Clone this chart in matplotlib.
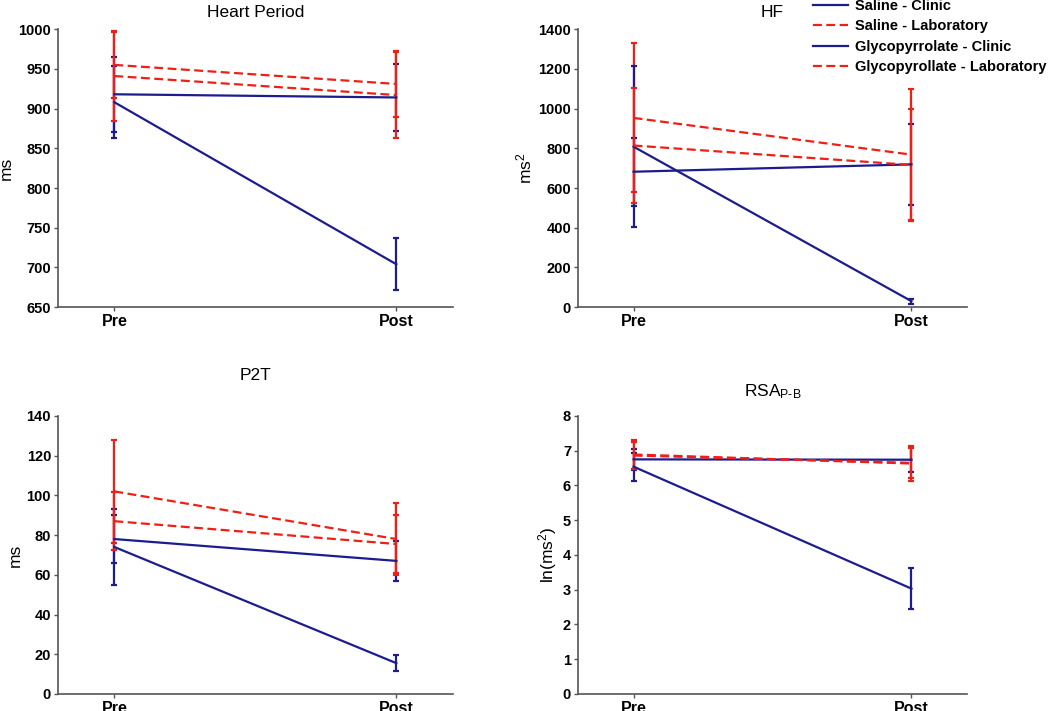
import numpy as np
import matplotlib.pyplot as plt

# Zeitpunkte
conditions = ["Pre", "Post"]

# Reihenfolge der Gruppen wie in der Legende
groups = ["Saline - Clinic", "Saline - Laboratory",
          "Glycopyrrolate - Clinic", "Glycopyrollate - Laboratory"]
colors = ["#1c1c8e", "#f01e14", "#1c1c8e", "#f01e14"]
styles = ["-", "--", "-", "--"]

# Heart Period (ms): Mittelwerte und Fehler je Gruppe, [Pre, Post]
hp_mean = [[918, 914], [955, 931], [908, 704], [941, 917]]
hp_err = [[47, 42], [42, 41], [45, 33], [57, 54]]

# HF (ms^2)
hf_mean = [[682, 719], [953, 768], [808, 30], [814, 716]]
hf_err = [[171, 203], [375, 330], [404, 13], [290, 282]]

# P2T (ms)
p2t_mean = [[78, 67], [102, 78], [74, 15.5], [87, 75.5]]
p2t_err = [[12, 10], [26, 18], [19, 4], [14.5, 14.5]]

# RSA P-B (ln(ms^2))
rsa_mean = [[6.75, 6.74], [6.89, 6.63], [6.54, 3.03], [6.86, 6.65]]
rsa_err = [[0.3, 0.36], [0.42, 0.5], [0.4, 0.6], [0.38, 0.44]]

panels = [
    ("Heart Period", "ms", hp_mean, hp_err, (650, 1000), np.arange(650, 1001, 50)),
    ("HF", "ms$^2$", hf_mean, hf_err, (0, 1400), np.arange(0, 1401, 200)),
    ("P2T", "ms", p2t_mean, p2t_err, (0, 140), np.arange(0, 141, 20)),
    ("RSA$_{\\mathregular{P\\text{-}B}}$", "ln(ms$^2$)", rsa_mean, rsa_err, (0, 8), np.arange(0, 9, 1)),
]

plt.rcParams['font.family'] = ['Liberation Sans', 'DejaVu Sans']
plt.rcParams['mathtext.fontset'] = 'custom'
plt.rcParams['mathtext.rm'] = 'Liberation Sans'
plt.rcParams['mathtext.it'] = 'Liberation Sans'
plt.rcParams['mathtext.default'] = 'regular'

fig = plt.figure(figsize=(10.5, 7.11), dpi=100)

# Achsenpositionen [links, unten, breite, hoehe]
positions = [
    [0.0552, 0.568, 0.376, 0.391],
    [0.5505, 0.568, 0.3705, 0.391],
    [0.0552, 0.024, 0.376, 0.391],
    [0.5505, 0.024, 0.3705, 0.391],
]
title_y = [1.015, 1.015, 1.1, 1.04]

x = np.array([1, 2])
handles = []
for k, (title, ylabel, means, errs, ylim, yticks) in enumerate(panels):
    ax = fig.add_axes(positions[k])
    hs = []
    for g in range(len(groups)):
        cont = ax.errorbar(x, means[g], yerr=errs[g], color=colors[g],
                           linestyle=styles[g], linewidth=1.6, elinewidth=1.6,
                           capsize=2.3, capthick=1.6,
                           dashes=(4, 2) if styles[g] == "--" else (None, None),
                           label=groups[g])
        hs.append(cont[0])
    if k == 0:
        handles = hs
    ax.set_xlim(0.8, 2.2)
    ax.set_ylim(*ylim)
    ax.set_xticks(x)
    ax.set_xticklabels(conditions, fontsize=11.5, fontweight='bold')
    ax.set_yticks(yticks)
    ax.set_yticklabels([str(t) for t in yticks], fontsize=10.5, fontweight='bold')
    ax.set_ylabel(ylabel, fontsize=12.5, labelpad=3)
    ax.set_title(title, fontsize=12.5, y=title_y[k])
    for s in ["top", "right"]:
        ax.spines[s].set_visible(False)
    for s in ["left", "bottom"]:
        ax.spines[s].set_color("#555555")
        ax.spines[s].set_linewidth(1.2)
    ax.tick_params(direction='out', length=3, color="#555555", width=1, pad=2)
    ax.tick_params(axis='x', pad=2)

leg = fig.legend(handles, groups, loc='upper left', bbox_to_anchor=(0.769, 1.010),
                 frameon=False, fontsize=10.5, handlelength=2.4, labelspacing=0.45,
                 handletextpad=0.45, borderaxespad=0)
for t in leg.get_texts():
    t.set_fontweight('bold')

fig.savefig("out.png", dpi=100)
